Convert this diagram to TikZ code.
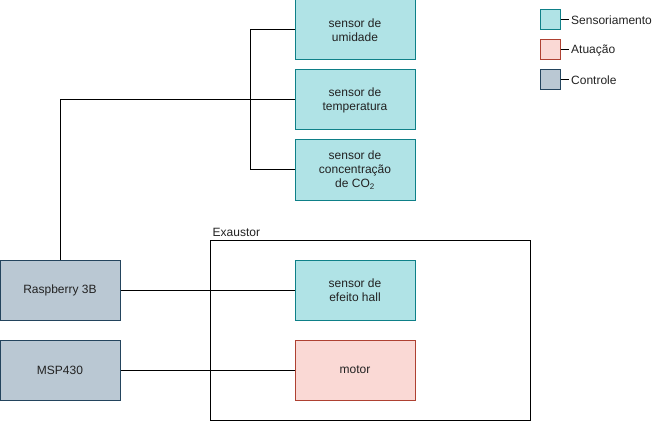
\documentclass[tikz,border=0pt]{standalone}
\usepackage{fontspec}
\setmainfont{Liberation Sans}
\definecolor{sensfill}{HTML}{B0E3E6}
\definecolor{sensdraw}{HTML}{0E8088}
\definecolor{atufill}{HTML}{FAD9D5}
\definecolor{atudraw}{HTML}{AE4132}
\definecolor{ctrlfill}{HTML}{BAC8D3}
\definecolor{ctrldraw}{HTML}{23445D}
\definecolor{txt}{HTML}{222222}
\tikzset{
  base/.style={rectangle, line width=1pt, minimum width=120pt, minimum height=60pt, inner sep=0pt, align=center, text=txt, font=\fontsize{12}{14}\selectfont},
  sens/.style={base, fill=sensfill, draw=sensdraw},
  atu/.style={base, fill=atufill, draw=atudraw},
  ctrl/.style={base, fill=ctrlfill, draw=ctrldraw},
  legbox/.style={rectangle, line width=1pt, minimum width=20pt, minimum height=20pt, inner sep=0pt},
  legtxt/.style={anchor=west, inner ysep=0pt, inner xsep=2pt, text=txt, font=\fontsize{12}{14}\selectfont},
  wire/.style={line width=1pt, black},
}
\begin{document}
\begin{tikzpicture}[x=1pt, y=-1pt]
\useasboundingbox (0,0) rectangle (671,422);
% Exaustor container
\node[draw=black, line width=1pt, minimum width=320pt, minimum height=180pt, inner sep=0pt] (exa) at (370,330.5) {};
\node[anchor=base west, inner sep=0pt, text=txt, font=\fontsize{12}{14}\selectfont] (exalbl) at (212.5,236) {Exaustor};
% sensors
\node[sens] (umid) at (355,30) {sensor de\\umidade};
\node[sens] (temp) at (355,100) {sensor de\\temperatura};
\node[sens] (co2) at (355,170) {sensor de\\concentração\\de CO\textsubscript{2}};
\node[sens] (hall) at (355,290) {sensor de\\efeito hall};
\node[atu] (motor) at (355,370) {motor};
\node[ctrl] (rasp) at (60,290) {Raspberry 3B};
\node[ctrl] (msp) at (60,370) {MSP430};
% connectors
\coordinate (bx) at (250,30);
\draw[wire] (rasp.north) |- (temp.west);
\draw[wire] (umid.west) -- (bx) |- (co2.west);
\draw[wire] (rasp.east) -- (hall.west);
\draw[wire] (msp.east) -- (motor.west);
% legend
\node[legbox, fill=sensfill, draw=sensdraw] (l1) at (550,20) {};
\node[legbox, fill=atufill, draw=atudraw] (l2) at (550,50) {};
\node[legbox, fill=ctrlfill, draw=ctrldraw] (l3) at (550,80) {};
\node[legtxt] (t1) at (569,20) {Sensoriamento};
\node[legtxt] (t2) at (569,50) {Atuação};
\node[legtxt] (t3) at (569,80) {Controle};
\draw[wire] (l1.east) -- (t1.west);
\draw[wire] (l2.east) -- (t2.west);
\draw[wire] (l3.east) -- (t3.west);
\end{tikzpicture}
\end{document}
